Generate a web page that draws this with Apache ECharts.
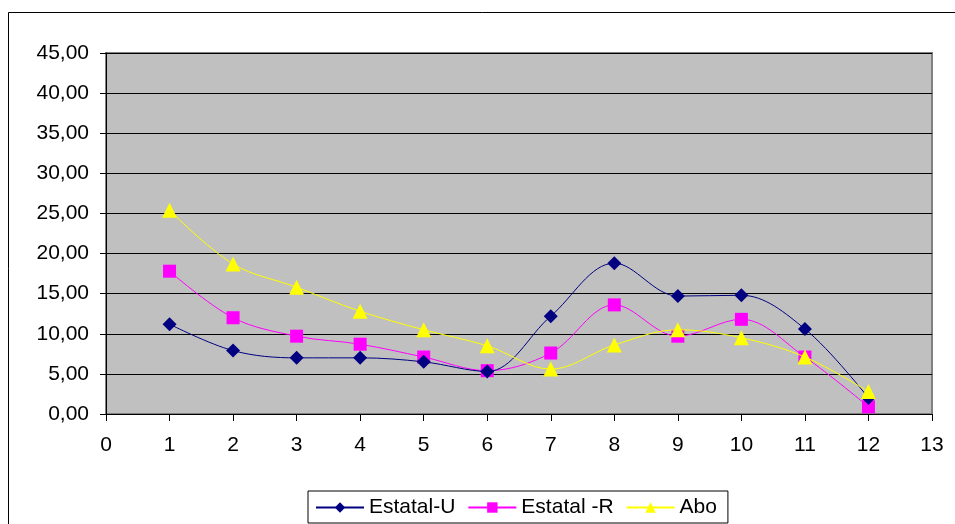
<!DOCTYPE html>
<html>
<head>
<meta charset="utf-8">
<script src="https://cdn.jsdelivr.net/npm/echarts@6/dist/echarts.min.js"></script>
<style>
  html, body { margin: 0; padding: 0; background: #fff; }
  #chart { width: 955px; height: 524px; }
</style>
</head>
<body>
<div id="chart"></div>
<script>
// Category positions along the x axis
const xPositions = [1, 2, 3, 4, 5, 6, 7, 8, 9, 10, 11, 12];

// Series values
const estatalU = [11.2, 7.9, 7.0, 7.0, 6.5, 5.3, 12.2, 18.8, 14.7, 14.8, 10.6, 2.0];
const estatalR = [17.8, 12.0, 9.7, 8.7, 7.1, 5.4, 7.6, 13.6, 9.7, 11.8, 7.1, 0.9];
const abo      = [25.4, 18.7, 15.8, 12.8, 10.5, 8.5, 5.6, 8.6, 10.5, 9.5, 7.1, 2.8];

const seriesNames = ['Estatal-U', 'Estatal -R', 'Abo'];

const pairs = (vals) => xPositions.map((x, i) => [x, vals[i]]);

const font = 'Liberation Sans, Arial, sans-serif';
const fontSize = 21;

const chart = echarts.init(document.getElementById('chart'), null, { renderer: 'canvas' });

chart.setOption({
  animation: false,
  backgroundColor: '#ffffff',
  textStyle: { fontFamily: font },
  graphic: [{
    type: 'rect',
    z: -10,
    shape: { x: 8.5, y: 12.5, width: 1000, height: 600 },
    style: { fill: 'none', stroke: '#000', lineWidth: 1 }
  }],
  grid: {
    left: 106, top: 53, right: 23, bottom: 110,
    show: true,
    backgroundColor: '#C0C0C0',
    borderColor: '#808080',
    borderWidth: 2
  },
  legend: {
    data: seriesNames,
    bottom: 1,
    left: 308,
    itemWidth: 48,
    itemHeight: 13,
    itemGap: 12,
    padding: [6, 11, 5, 7],
    borderColor: '#000',
    borderWidth: 1,
    textStyle: { fontFamily: font, fontSize: fontSize, color: '#000' }
  },
  xAxis: {
    type: 'value',
    min: 0, max: 13, interval: 1,
    axisLine: { show: true, onZero: false, lineStyle: { color: '#000', width: 1 } },
    axisTick: { show: true, length: 7, lineStyle: { color: '#000' } },
    axisLabel: { fontFamily: font, fontSize: fontSize, color: '#000', margin: 21 },
    splitLine: { show: false }
  },
  yAxis: {
    type: 'value',
    min: 0, max: 45, interval: 5,
    axisLine: { show: true, lineStyle: { color: '#000', width: 1 } },
    axisTick: { show: true, length: 6, lineStyle: { color: '#000' } },
    axisLabel: {
      fontFamily: font, fontSize: fontSize, color: '#000', margin: 17,
      formatter: (v) => v.toFixed(2).replace('.', ',')
    },
    splitLine: { show: true, lineStyle: { color: '#000', width: 1 } }
  },
  series: [
    {
      name: seriesNames[0], type: 'line', smooth: 0.35,
      data: pairs(estatalU),
      symbol: 'diamond', symbolSize: 14,
      itemStyle: { color: '#000080' },
      lineStyle: { color: '#000080', width: 1 },
      z: 4
    },
    {
      name: seriesNames[1], type: 'line', smooth: 0.35,
      data: pairs(estatalR),
      symbol: 'rect', symbolSize: 13,
      itemStyle: { color: '#FF00FF' },
      lineStyle: { color: '#FF00FF', width: 1 },
      z: 3
    },
    {
      name: seriesNames[2], type: 'line', smooth: 0.35,
      data: pairs(abo),
      symbol: 'triangle', symbolSize: 15,
      itemStyle: { color: '#FFFF00' },
      lineStyle: { color: '#FFFF00', width: 1 },
      z: 5
    }
  ]
});
</script>
</body>
</html>
